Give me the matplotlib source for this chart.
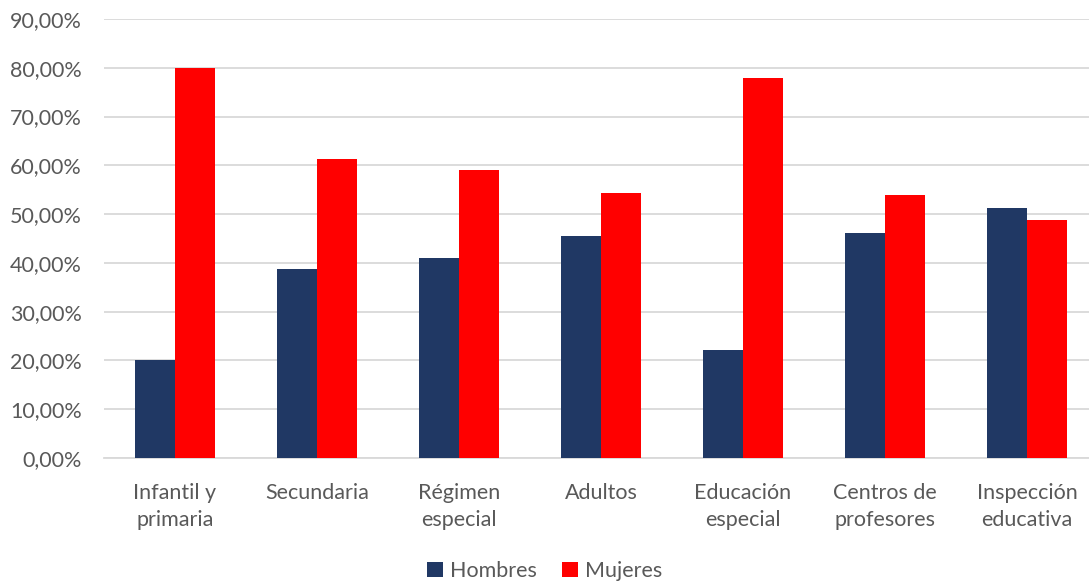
import matplotlib
matplotlib.use("Agg")
import matplotlib.pyplot as plt
import numpy as np
from matplotlib.ticker import FuncFormatter

categories = ["Infantil y\nprimaria", "Secundaria", "Régimen\nespecial", "Adultos",
              "Educación\nespecial", "Centros de\nprofesores", "Inspección\neducativa"]
hombres = [20.1, 38.8, 41.0, 45.6, 22.1, 46.1, 51.2]
mujeres = [79.9, 61.2, 59.0, 54.4, 77.9, 53.9, 48.8]
yticks = [0, 10, 20, 30, 40, 50, 60, 70, 80, 90]

plt.rcParams['font.family'] = ['Lato', 'DejaVu Sans']
TXT = '#595959'
FS = 15.5

fig = plt.figure(figsize=(10.89, 5.84), dpi=100)
ax = fig.add_axes([104/1089, (584-458)/584, 1 - 104/1089, (458-19)/584])

x = np.arange(len(categories))
w = 0.285
ax.bar(x - w/2, hombres, w, color='#203864', label='Hombres', zorder=3)
ax.bar(x + w/2, mujeres, w, color='#FF0000', label='Mujeres', zorder=3)

ax.set_ylim(0, 90)
ax.set_xlim(-0.5, 6.5 - 9/142)
ax.set_yticks(yticks)
ax.yaxis.set_major_formatter(FuncFormatter(lambda v, p: f"{v:.2f}%".replace('.', ',')))
ax.grid(axis='y', color='#D9D9D9', linewidth=1.3, zorder=0)
ax.set_xticks(x)
ax.set_xticklabels(categories, fontsize=FS, color=TXT, linespacing=1.45, va='top')
for lab in ax.get_yticklabels():
    lab.set_fontsize(FS)
    lab.set_color(TXT)
ax.tick_params(axis='both', length=0)
ax.tick_params(axis='x', pad=18)
ax.tick_params(axis='y', pad=16)
for s in ['top', 'right', 'left']:
    ax.spines[s].set_visible(False)
ax.spines['bottom'].set_color('#D9D9D9')
ax.spines['bottom'].set_linewidth(1.3)

fig.legend(loc='center', bbox_to_anchor=(0.5, 1 - 571/584), ncol=2, frameon=False,
           fontsize=FS, labelcolor=TXT, handlelength=0.75, handleheight=0.75,
           handletextpad=0.3, columnspacing=1.2)

fig.savefig("out.png", dpi=100)
